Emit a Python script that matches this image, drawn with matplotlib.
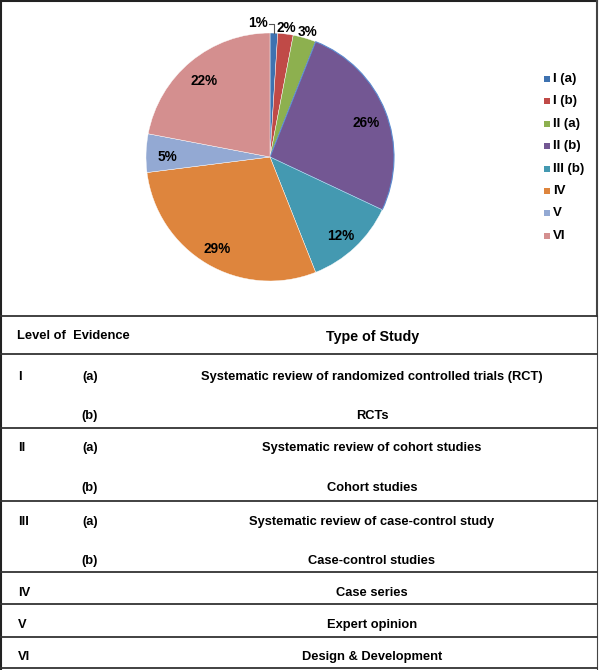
"""
Pie of evidence levels with a table of study types below.
"""

import numpy as np
import matplotlib.pyplot as plt

plt.rcParams["font.family"] = ["Liberation Sans", "DejaVu Sans"]
plt.rcParams["font.weight"] = "bold"

# Data
levels = ["I (a)", "I (b)", "II (a)", "II (b)", "III (b)", "IV", "V", "VI"]
shares = [1, 2, 3, 26, 12, 29, 5, 22]
colors = ["#3e72b0", "#c04a47", "#8db04f", "#735793", "#4499b1",
          "#de853d", "#93a9d3", "#d48f8f"]

table_header = ["Level of  Evidence", "Type of Study"]
table_level = ["I", "", "II", "", "III", "", "IV", "V", "VI"]
table_sub = ["(a)", "(b)", "(a)", "(b)", "(a)", "(b)", "", "", ""]
table_study = ["Systematic review of randomized controlled trials (RCT)",
               "RCTs",
               "Systematic review of cohort studies",
               "Cohort studies",
               "Systematic review of case-control study",
               "Case-control studies",
               "Case series",
               "Expert opinion",
               "Design & Development"]

W, H = 600, 670
fig = plt.figure(figsize=(W / 100, H / 100), dpi=100)

# Overlay in pixel coordinates for borders and table
bg = fig.add_axes([0, 0, 1, 1])
bg.set_xlim(0, W)
bg.set_ylim(H, 0)
bg.axis("off")

# Pie (centre ~ (270,157), radius ~124 px)
cx, cy, r = 270, 157, 124
ax = fig.add_axes([(cx - r) / W, 1 - (cy + r) / H, 2 * r / W, 2 * r / H])
wedges, _ = ax.pie(shares, colors=colors, startangle=90, counterclock=False,
                   wedgeprops=dict(edgecolor="white", linewidth=0.3))
ax.set_aspect("equal")
ax.set_xlim(-1, 1)
ax.set_ylim(-1, 1)
ax.axis("off")
wedges[3].set_edgecolor("#5b8bd0")
wedges[3].set_linewidth(0.8)

# Percentage labels
lab_kw = dict(fontsize=9.8, fontweight="bold")
dy = -0.03  # nudge labels down a little
for w, v in zip(wedges, shares):
    mid = np.deg2rad((w.theta1 + w.theta2) / 2)
    if v >= 5:
        d = 0.83
        ax.text(d * np.cos(mid), d * np.sin(mid) + dy, f"{v}%", ha="center",
                va="center", **lab_kw)
    elif v == 1:
        x0, y0 = np.cos(mid), np.sin(mid)
        ax.plot([x0, x0, x0 - 0.04], [y0, y0 + 0.075, y0 + 0.075],
                color="#555555", lw=0.8, clip_on=False)
        ax.text(x0 - 0.05, y0 + 0.085, f"{v}%", ha="right", va="center",
                **lab_kw)
    else:
        d = 1.08
        ax.text(d * np.cos(mid), d * np.sin(mid) + dy, f"{v}%", ha="center",
                va="center", **lab_kw)

# Legend
for i, (lab, c) in enumerate(zip(levels, colors)):
    y = 79 + i * 22.4
    bg.add_patch(plt.Rectangle((544, y - 3), 6, 6, facecolor=c, edgecolor="none"))
    bg.text(553, y, lab, ha="left", va="center", fontsize=9.5, fontweight="bold")

# Borders
line_kw = dict(color="#222222", lw=1.5)
bg.plot([1, W - 3], [1, 1], **line_kw)
bg.plot([1, 1], [1, H - 1], **line_kw)
bg.plot([W - 3, W - 3], [1, 316], color="#444444", lw=1.5)
bg.plot([W - 3, W - 3], [316, H - 1], color="#444444", lw=0.8)
for y in [316, 354, 428, 501, 572, 604, 637, H - 2]:
    bg.plot([1, W - 3], [y, y], color="#333333", lw=1.3)

# Table text
bg.text(17, 336, table_header[0], ha="left", va="center", fontsize=9.3)
bg.text(373, 337, table_header[1], ha="center", va="center", fontsize=10.3)

row_y = [377, 416, 448, 488, 522, 561, 593, 625, 657]
for y, lv, sb, st in zip(row_y, table_level, table_sub, table_study):
    bg.text(18, y, lv, ha="left", va="center", fontsize=9.3)
    bg.text(90, y, sb, ha="center", va="center", fontsize=9.3)
    bg.text(372, y, st, ha="center", va="center", fontsize=9.3)

plt.savefig("out.png", dpi=100, facecolor="white")
